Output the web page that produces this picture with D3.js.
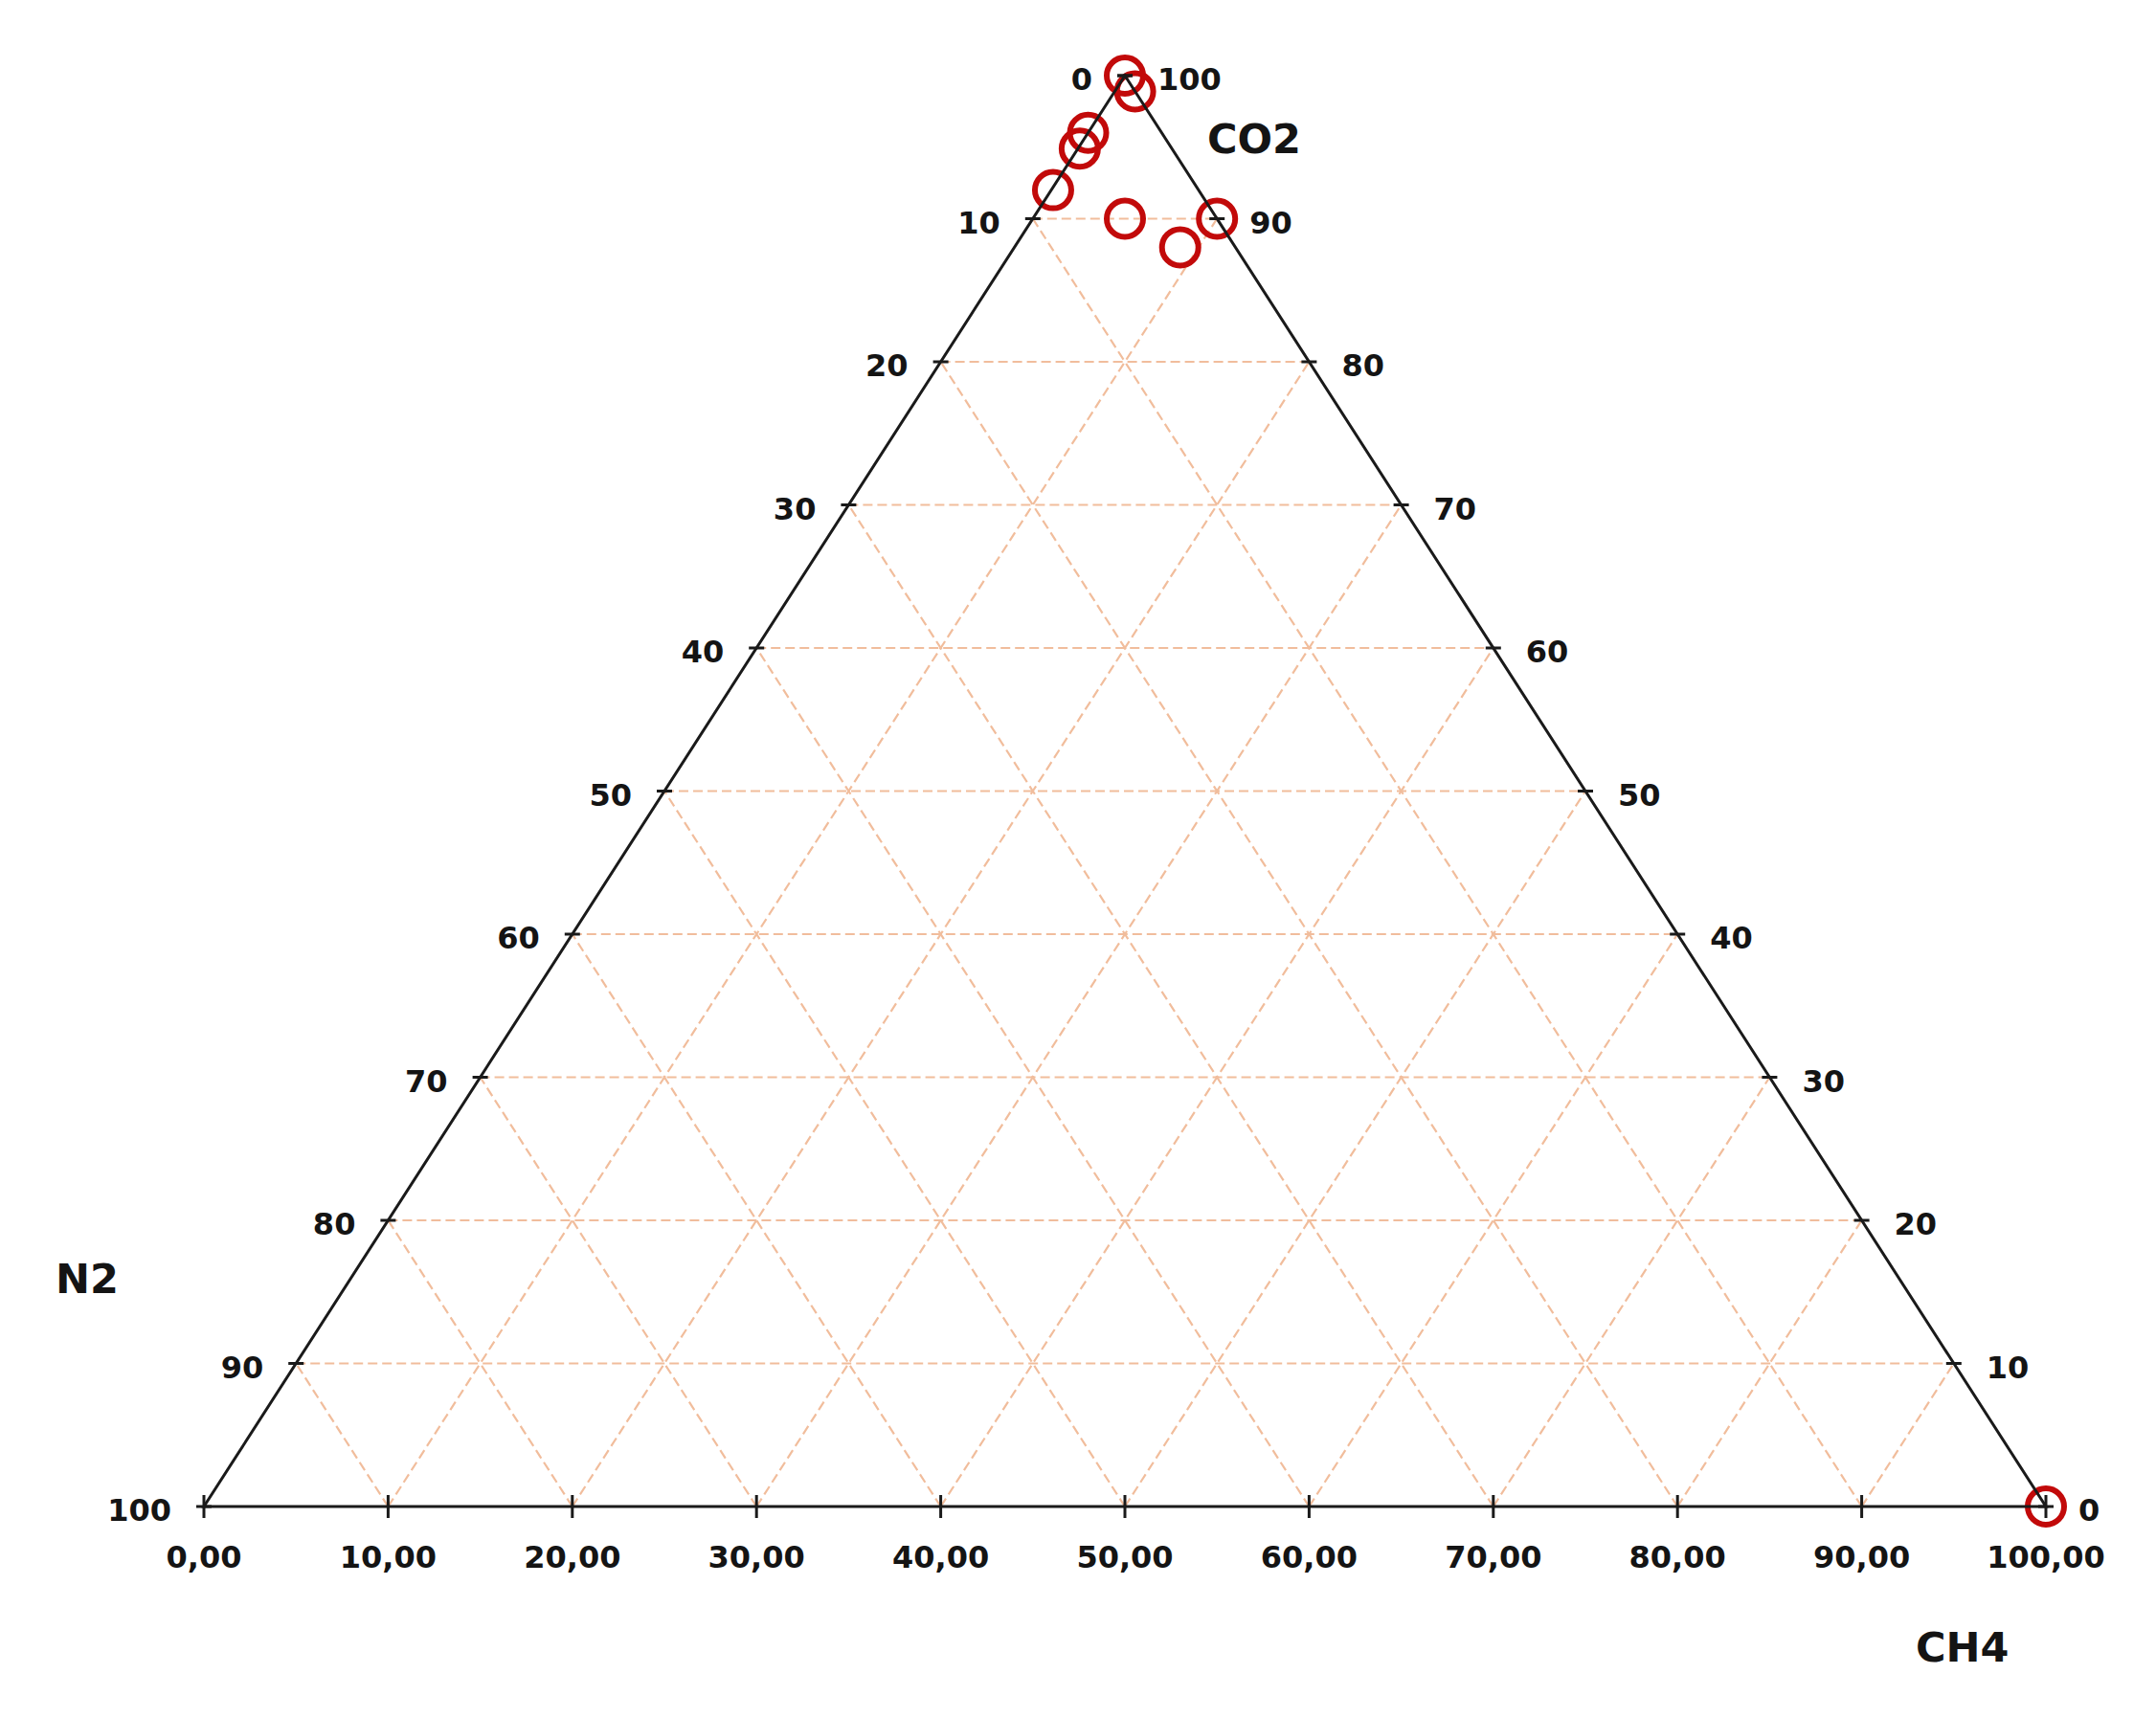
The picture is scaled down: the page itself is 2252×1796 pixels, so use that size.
<!DOCTYPE html>
<html>
<head>
<meta charset="utf-8">
<script src="https://cdn.jsdelivr.net/npm/d3@7"></script>
<style>
  html, body { margin: 0; padding: 0; background: #fff; }
  svg { display: block; }
  text { font-family: "DejaVu Sans", Verdana, sans-serif; font-weight: bold; fill: #141414; }
</style>
</head>
<body>
<svg id="chart" width="2252" height="1796"></svg>
<script>
// ---- data (CH4, N2, CO2 in %) ----
const ch4 = [0, 1.1, 0, 0.1, 0.1, 5, 10, 9, 100];
const n2  = [0, 0, 4, 5, 8, 5, 0, 3, 0];
const co2 = [100, 98.9, 96, 94.9, 92, 90, 90, 88, 0];

// ---- ticks ----
const tickValues = [0, 10, 20, 30, 40, 50, 60, 70, 80, 90, 100];
const bottomLabels = ["0,00", "10,00", "20,00", "30,00", "40,00", "50,00", "60,00", "70,00", "80,00", "90,00", "100,00"];
const leftLabels = ["0", "10", "20", "30", "40", "50", "60", "70", "80", "90", "100"];   // N2 (top → bottom-left)
const rightLabels = ["100", "90", "80", "70", "60", "50", "40", "30", "20", "10", "0"];   // CO2 (top → bottom-right)
const gridValues = [10, 20, 30, 40, 50, 60, 70, 80, 90];
const axisTitles = ["CO2", "N2", "CH4"];

const svg = d3.select("#chart");

// scales: horizontal position (%) and vertical (CO2 %)
const x = d3.scaleLinear().domain([0, 100]).range([213, 2137]);
const y = d3.scaleLinear().domain([0, 100]).range([1574, 79]);

// ternary projection: a = CH4, c = CO2
const px = (a, c) => x(a + c / 2);
const py = c => y(c);

// ---- grid ----
const grid = svg.append("g")
  .attr("stroke", "#f1bd9c")
  .attr("stroke-width", 2.2)
  .attr("stroke-dasharray", "10,5")
  .attr("fill", "none");

grid.selectAll("line.h").data(gridValues).join("line")
  .attr("x1", c => px(0, c)).attr("y1", c => py(c))
  .attr("x2", c => px(100 - c, c)).attr("y2", c => py(c));
grid.selectAll("line.a").data(gridValues).join("line")
  .attr("x1", a => px(a, 0)).attr("y1", py(0))
  .attr("x2", a => px(a, 100 - a)).attr("y2", a => py(100 - a));
grid.selectAll("line.n").data(gridValues).join("line")
  .attr("x1", n => px(100 - n, 0)).attr("y1", py(0))
  .attr("x2", n => px(0, 100 - n)).attr("y2", n => py(100 - n));

// ---- points ----
const pts = ch4.map((a, i) => ({ a, n: n2[i], c: co2[i] }));
svg.append("g").selectAll("circle").data(pts).join("circle")
  .attr("cx", d => px(d.a, d.c))
  .attr("cy", d => py(d.c))
  .attr("r", 19)
  .attr("fill", "none")
  .attr("stroke", "#c20a0a")
  .attr("stroke-width", 6);

// ---- triangle frame ----
const frame = svg.append("g").attr("stroke", "#1a1a1a").attr("stroke-width", 3).attr("fill", "none");
frame.append("path")
  .attr("d", d3.line()([[px(0, 0), py(0)], [px(100, 0), py(0)], [px(0, 100), py(100)]]) + "Z")
  .attr("stroke-linejoin", "miter");

const ticks = svg.append("g").attr("stroke", "#1a1a1a").attr("stroke-width", 3);
tickValues.forEach((v, i) => {
  const c = 100 - v;
  ticks.append("line")
    .attr("x1", px(0, c) - 8).attr("x2", px(0, c) + 8)
    .attr("y1", py(c)).attr("y2", py(c));
  svg.append("text")
    .attr("x", px(0, c) - 34).attr("y", py(c) + 15)
    .attr("text-anchor", "end").attr("font-size", 32)
    .text(leftLabels[i]);
});
tickValues.forEach((v, i) => {
  const c = 100 - v;
  ticks.append("line")
    .attr("x1", px(v, c) - 8).attr("x2", px(v, c) + 8)
    .attr("y1", py(c)).attr("y2", py(c));
  svg.append("text")
    .attr("x", px(v, c) + 34).attr("y", py(c) + 15)
    .attr("text-anchor", "start").attr("font-size", 32)
    .text(rightLabels[i]);
});
tickValues.forEach((v, i) => {
  ticks.append("line")
    .attr("x1", px(v, 0)).attr("x2", px(v, 0))
    .attr("y1", py(0) - 12).attr("y2", py(0) + 12);
  svg.append("text")
    .attr("x", px(v, 0)).attr("y", py(0) + 64)
    .attr("text-anchor", "middle").attr("font-size", 32)
    .text(bottomLabels[i]);
});

// ---- axis titles ----
svg.append("text").attr("x", 1261).attr("y", 160).attr("font-size", 43).text(axisTitles[0]);
svg.append("text").attr("x", 58).attr("y", 1351).attr("font-size", 43).text(axisTitles[1]);
svg.append("text").attr("x", 2001).attr("y", 1736).attr("font-size", 43).text(axisTitles[2]);
</script>
</body>
</html>
